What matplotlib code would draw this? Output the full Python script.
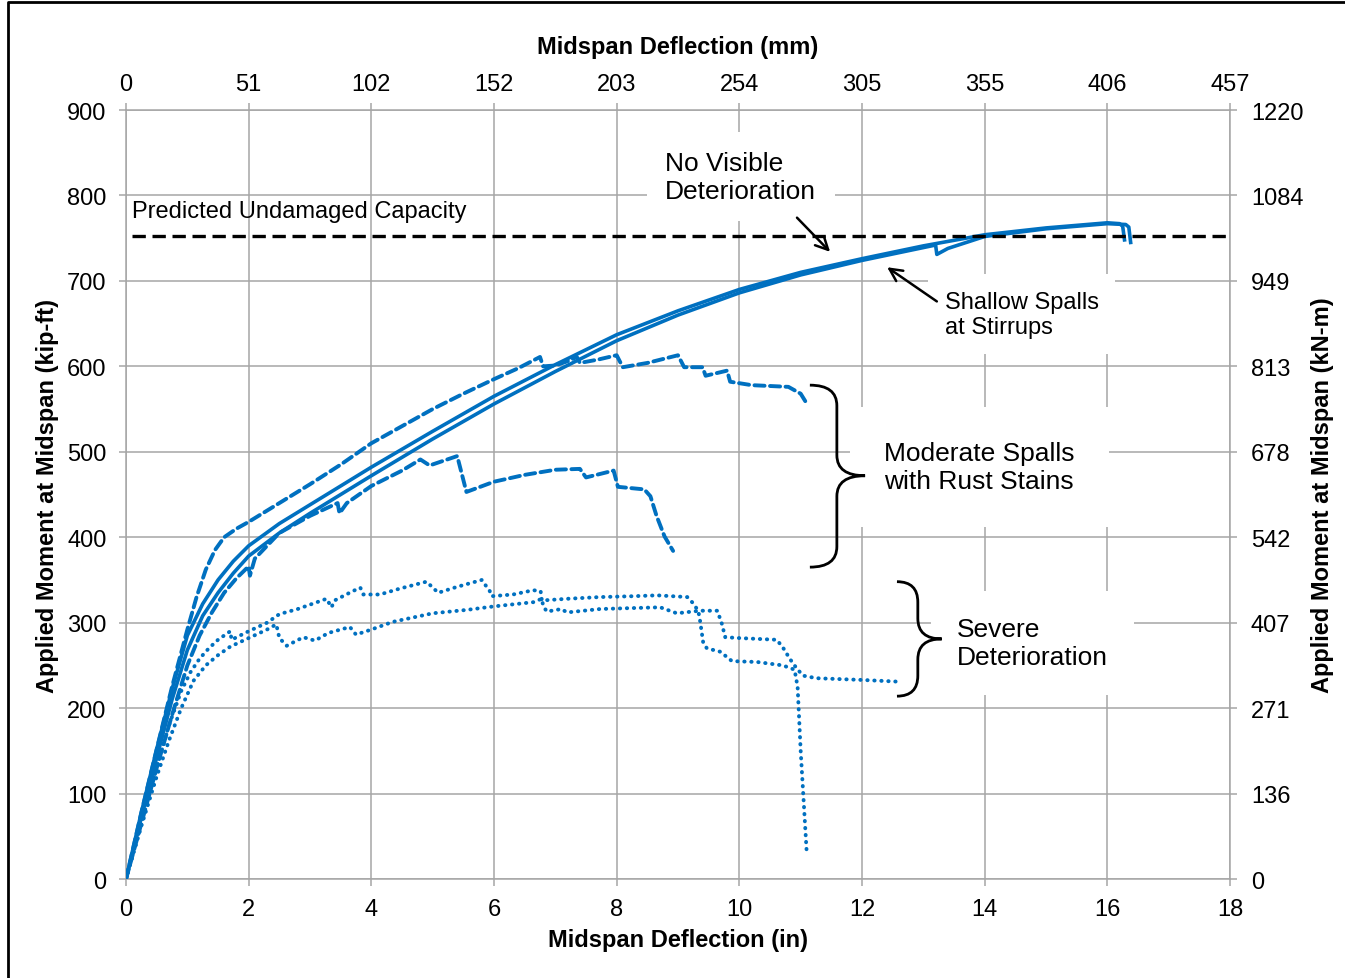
import matplotlib
import matplotlib.pyplot as plt
from matplotlib.path import Path
from matplotlib.patches import PathPatch
from matplotlib.lines import Line2D
matplotlib.rc('font', family=['Liberation Sans', 'DejaVu Sans'])

BLUE = '#0070c0'
GRID = '#a6a6a6'
###############################################################################
# Data (deflection in, moment kip-ft)
###############################################################################
solid_a_x = [0, 0.25, 0.5, 0.75, 1.0, 1.25, 1.5, 1.75, 2.0, 2.5, 3.0, 3.5,
             4.0, 5.0, 6.0, 7.0, 8.0, 9.0, 10.0, 11.0, 12.0, 13.0, 14.0, 15.0,
             15.5, 16.0, 16.2, 16.25, 16.28]
solid_a_y = [0, 78, 152, 222, 285, 322, 350, 372, 390, 416, 438, 460,
             482, 524, 565, 602, 637, 665, 690, 710, 726, 741, 754, 762,
             765, 768, 767, 764, 748]
solid_b_x = [0, 0.25, 0.5, 0.75, 1.0, 1.25, 1.5, 1.75, 2.0, 2.5, 3.0, 3.5,
             4.0, 5.0, 6.0, 7.0, 8.0, 9.0, 10.0, 11.0, 12.0, 13.0, 13.2,
             13.22, 13.4, 14.0, 15.0, 15.5, 16.0, 16.3, 16.35, 16.38]
solid_b_y = [0, 72, 142, 210, 268, 308, 335, 358, 378, 405, 428, 450,
             472, 515, 556, 594, 630, 660, 686, 707, 724, 739, 742,
             731, 738, 752, 761, 764, 767, 766, 763, 745]

dash_a_x = [0, 0.25, 0.5, 0.75, 1.0, 1.15, 1.3, 1.45, 1.6, 1.8, 2.0, 2.5,
            3.0, 3.5, 4.0, 4.5, 5.0, 5.5, 6.0, 6.4, 6.75, 6.8, 7.0, 7.2,
            7.35, 7.4, 7.7, 8.0, 8.1, 8.5, 9.0, 9.1, 9.4, 9.45, 9.8, 9.85,
            10.2, 10.8, 11.0, 11.12]
dash_a_y = [0, 78, 152, 225, 292, 330, 362, 385, 400, 410, 418, 440,
            462, 485, 510, 530, 550, 568, 585, 598, 611, 600, 601, 606,
            611, 604, 608, 613, 599, 604, 613, 599, 599, 589, 595, 582,
            578, 576, 568, 554]
dash_b_x = [0, 0.25, 0.5, 0.75, 1.0, 1.2, 1.4, 1.6, 1.8, 2.0, 2.02, 2.1,
            2.5, 3.0, 3.45, 3.48, 3.6, 4.0, 4.5, 4.8, 4.95, 5.4, 5.55, 6.0,
            6.5, 7.0, 7.4, 7.5, 7.95, 8.02, 8.45, 8.55, 8.65, 8.78, 8.92]
dash_b_y = [0, 65, 130, 192, 250, 285, 312, 335, 352, 366, 355, 375,
            405, 425, 440, 428, 440, 460, 478, 491, 484, 495, 453, 465,
            473, 479, 480, 470, 478, 459, 456, 448, 425, 401, 384]

dot_a_x = [0, 0.25, 0.5, 0.7, 0.9, 1.05, 1.2, 1.35, 1.5, 1.7, 1.72, 2.0,
           2.3, 2.5, 2.8, 3.27, 3.35, 3.4, 3.7, 3.82, 3.87, 4.14, 4.47, 4.9,
           5.09, 5.4, 5.8, 5.93, 5.96, 6.31, 6.64, 6.76, 6.78, 7.2, 7.73,
           8.27, 8.66, 9.15, 9.23, 9.33, 9.36, 9.41, 9.47, 9.69, 9.88, 10.29,
           10.71, 10.9, 10.95, 11.0, 11.1]
dot_a_y = [0, 68, 130, 180, 220, 242, 258, 270, 280, 290, 280, 290,
           300, 310, 316, 328, 318, 326, 337, 341, 333, 333, 340, 348,
           335, 342, 350, 337, 331, 333, 338, 337, 326, 328, 330,
           331, 332, 330, 324, 314, 302, 277, 270, 266, 255, 254,
           250, 245, 225, 150, 29]
dot_b_x = [0, 0.25, 0.5, 0.7, 0.9, 1.1, 1.3, 1.5, 1.7, 2.0, 2.3, 2.45, 2.5,
           2.62, 2.89, 3.08, 3.3, 3.65, 3.75, 4.0, 4.35, 5.0, 5.56, 5.99,
           6.64, 6.78, 6.8, 6.86, 7.1, 7.19, 7.73, 8.2, 8.71, 8.98, 9.36,
           9.64, 9.71, 9.77, 10.0, 10.61, 10.71, 10.83, 10.94, 11.04, 11.26,
           12.0, 12.59]
dot_b_y = [0, 62, 120, 162, 200, 232, 250, 262, 272, 282, 292, 298, 282,
           273, 283, 279, 288, 295, 286, 292, 301, 311, 315, 319,
           324, 328, 320, 313, 316, 312, 316, 317, 318, 311, 314,
           314, 300, 283, 282, 280, 271, 257, 246, 238, 235,
           233, 231]

capacity = 752
x_ticks = [0, 2, 4, 6, 8, 10, 12, 14, 16, 18]
mm_labels = ['0', '51', '102', '152', '203', '254', '305', '355', '406', '457']
y_ticks = [0, 100, 200, 300, 400, 500, 600, 700, 800, 900]
knm_labels = ['0', '136', '271', '407', '542', '678', '813', '949', '1084', '1220']
###############################################################################
# Figure
###############################################################################
fig = plt.figure(figsize=(13.45, 9.79), dpi=100)
ax = fig.add_axes([0.0937, 0.1011, 0.8208, 0.7855])
ax.set_xlim(0, 18)
ax.set_ylim(0, 900)
ax.set_xticks(x_ticks)
ax.set_yticks(y_ticks)
ax.grid(True, color=GRID, lw=1.1, zorder=0)
ax.set_axisbelow(True)
for sp in ax.spines.values():
    sp.set_color(GRID)
    sp.set_linewidth(1.1)
ax.tick_params(direction='out', length=5, width=1.1, color=GRID,
               labelsize=17, pad=9)

# Curves ----------------------------------------------------------------------
for (xs, ys) in [(solid_a_x, solid_a_y), (solid_b_x, solid_b_y)]:
    ax.plot(xs, ys, color=BLUE, lw=2.6, solid_joinstyle='round', zorder=3)
for (xs, ys) in [(dash_a_x, dash_a_y), (dash_b_x, dash_b_y)]:
    ax.plot(xs, ys, color=BLUE, lw=2.8, linestyle=(0, (2.6, 1.4)),
            dash_capstyle='round', zorder=3)
for (xs, ys) in [(dot_a_x, dot_a_y), (dot_b_x, dot_b_y)]:
    ax.plot(xs, ys, color=BLUE, lw=2.8, linestyle=(0, (0.1, 1.7)),
            dash_capstyle='round', zorder=3)
ax.plot([0.1, 18], [capacity, capacity], color='black', lw=2.4,
        linestyle=(0, (4, 2)), zorder=4)

# Annotations -----------------------------------------------------------------
box = dict(facecolor='white', edgecolor='none', boxstyle='square,pad=0.7')
ax.text(0.1, 782, 'Predicted Undamaged Capacity', fontsize=17,
        ha='left', va='center', zorder=5)
ax.text(8.79, 822, 'No Visible\nDeterioration', fontsize=19,
        ha='left', va='center', bbox=box, zorder=5)
ax.text(13.35, 661, 'Shallow Spalls\nat Stirrups', fontsize=17,
        ha='left', va='center', bbox=box, zorder=5)
ax.text(12.36, 482, 'Moderate Spalls\nwith Rust Stains', fontsize=19,
        ha='left', va='center', bbox=dict(facecolor='white', edgecolor='none',
                                           boxstyle='square,pad=1.3'), zorder=5)
ax.text(13.55, 276, 'Severe\nDeterioration', fontsize=19,
        ha='left', va='center', bbox=dict(facecolor='white', edgecolor='none',
                                           boxstyle='square,pad=1.0'), zorder=5)
arrow = dict(arrowstyle='->,head_length=0.9,head_width=0.45', color='black',
             lw=1.8, shrinkA=0, shrinkB=0)
ax.annotate('', xy=(11.48, 734), xytext=(10.94, 774), arrowprops=arrow,
            zorder=6)
ax.annotate('', xy=(12.41, 716), xytext=(13.22, 676), arrowprops=arrow,
            zorder=6)


def brace(xl, xm, xt, ytop, ytip, ybot, r):
    verts = [(xl, ytop), (xm, ytop), (xm, ytop - r),
             (xm, ytip + r),
             (xm, ytip), (xt, ytip),
             (xm, ytip), (xm, ytip - r),
             (xm, ybot + r),
             (xm, ybot), (xl, ybot)]
    codes = [Path.MOVETO, Path.CURVE3, Path.CURVE3,
             Path.LINETO,
             Path.CURVE3, Path.CURVE3,
             Path.CURVE3, Path.CURVE3,
             Path.LINETO,
             Path.CURVE3, Path.CURVE3]
    ax.add_patch(PathPatch(Path(verts, codes), facecolor='none',
                           edgecolor='black', lw=2.0, zorder=6))


brace(11.15, 11.59, 12.05, 578, 472, 365, 24)
brace(12.57, 12.91, 13.30, 348, 281, 214, 24)

# Axis labels -----------------------------------------------------------------
ax.set_xlabel('Midspan Deflection (in)', fontsize=17, fontweight='bold')
ax.set_ylabel('Applied Moment at Midspan (kip-ft)', fontsize=17,
              fontweight='bold')
ax.xaxis.label.set_va('center')
ax.yaxis.label.set_va('center')
ax.xaxis.set_label_coords(0.5, -0.079)
ax.yaxis.set_label_coords(-0.0707, 0.5)

ax_top = ax.twiny()
ax_top.set_xlim(ax.get_xlim())
ax_top.set_xticks(x_ticks)
ax_top.set_xticklabels(mm_labels)
ax_top.tick_params(direction='out', length=5, width=1.1, color=GRID,
                   labelsize=17, pad=6)
ax_top.set_xlabel('Midspan Deflection (mm)', fontsize=17, fontweight='bold')
ax_top.xaxis.label.set_va('center')
ax_top.xaxis.set_label_coords(0.5, 1.083)

ax_right = ax.twinx()
ax_right.set_ylim(ax.get_ylim())
ax_right.set_yticks(y_ticks)
ax_right.set_yticklabels(knm_labels)
ax_right.tick_params(direction='out', length=5, width=1.1, color=GRID,
                     labelsize=17, pad=10)
ax_right.set_ylabel('Applied Moment at Midspan (kN-m)', fontsize=17,
                    fontweight='bold')
ax_right.yaxis.label.set_va('center')
ax_right.yaxis.set_label_coords(1.084, 0.5)
for a in (ax_top, ax_right):
    for sp in a.spines.values():
        sp.set_visible(False)

# Frame of the figure ---------------------------------------------------------
fig.add_artist(Line2D([8 / 1345, 8 / 1345, 1], [0, 1 - 3 / 979, 1 - 3 / 979],
                      transform=fig.transFigure, color='black', lw=2.0))
fig.savefig('out.png', dpi=100, facecolor='white')
plt.close('all')
